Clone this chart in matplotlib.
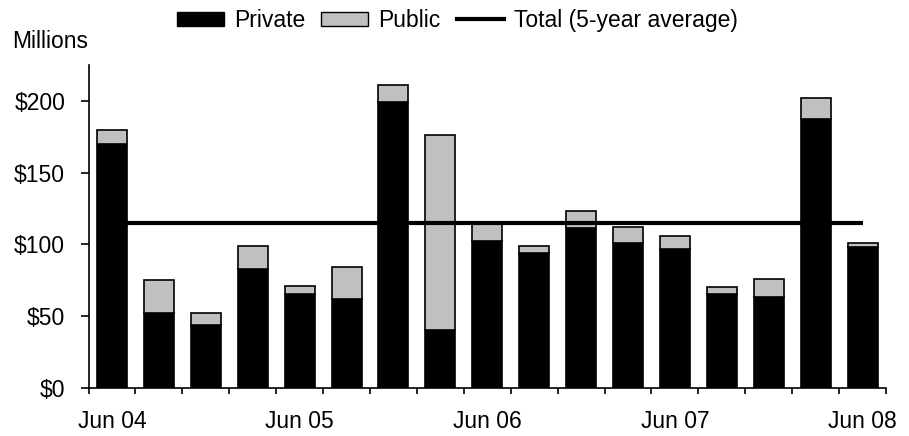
import numpy as np
import matplotlib.pyplot as plt
from matplotlib.patches import Patch
from matplotlib.lines import Line2D

plt.rcParams['font.family'] = ['Liberation Sans', 'DejaVu Sans']

# Quarterly issuance, Jun 04 .. Jun 08 ($ millions)
quarters = ['Jun 04', 'Sep 04', 'Dec 04', 'Mar 05', 'Jun 05', 'Sep 05', 'Dec 05', 'Mar 06',
            'Jun 06', 'Sep 06', 'Dec 06', 'Mar 07', 'Jun 07', 'Sep 07', 'Dec 07', 'Mar 08', 'Jun 08']
private = [170, 52, 44, 83, 65, 62, 199, 40, 102, 94, 111, 101, 97, 65, 63, 187, 98]
total = [180, 75, 52, 99, 71, 84, 211, 176, 114, 99, 123, 112, 106, 70, 76, 202, 101]
avg_total = 115
tick_labels = ['Jun 04', 'Jun 05', 'Jun 06', 'Jun 07', 'Jun 08']

public = [t - p for t, p in zip(total, private)]
x = np.arange(len(quarters))

fig = plt.figure(figsize=(9.09, 4.36), dpi=100)
ax = fig.add_axes([0.0974, 0.1108, 0.8773, 0.7402])

ax.bar(x, private, width=0.64, color='black', edgecolor='black', linewidth=1.2)
ax.bar(x, public, bottom=private, width=0.64, color='#c0c0c0', edgecolor='black', linewidth=1.2)
ax.hlines(avg_total, x[0], x[-1], color='black', linewidth=3, zorder=3)

ax.set_xlim(-0.5, len(quarters) - 0.5)
ax.set_ylim(0, 225)
ax.set_yticks([0, 50, 100, 150, 200])
ax.set_yticklabels(['$0', '$50', '$100', '$150', '$200'])

label_pos = [quarters.index(t) for t in tick_labels]
ax.set_xticks(label_pos)
ax.set_xticklabels(tick_labels)
ax.set_xticks(np.arange(-0.5, len(quarters)), minor=True)
ax.tick_params(axis='x', which='major', length=0, pad=16)
ax.tick_params(axis='x', which='minor', length=4.5, width=1.2, direction='out')
ax.tick_params(axis='y', length=5.8, width=1.2, direction='out', pad=11)
ax.tick_params(labelsize=16.5)

for side in ['top', 'right']:
    ax.spines[side].set_visible(False)
for side in ['left', 'bottom']:
    ax.spines[side].set_linewidth(1.2)

fig.text(0.013, 0.905, 'Millions', fontsize=16.5, va='center', ha='left')

handles = [Patch(facecolor='black', edgecolor='black'),
           Patch(facecolor='#c0c0c0', edgecolor='black'),
           Line2D([0], [0], color='black', linewidth=3)]
fig.legend(handles, ['Private', 'Public', 'Total (5-year average)'],
           loc='center', bbox_to_anchor=(0.503, 0.953), ncol=3, frameon=False,
           fontsize=16.5, handlelength=2.05, handleheight=0.57, handletextpad=0.45,
           columnspacing=0.7, borderaxespad=0, borderpad=0)

fig.savefig('out.png', dpi=100)
